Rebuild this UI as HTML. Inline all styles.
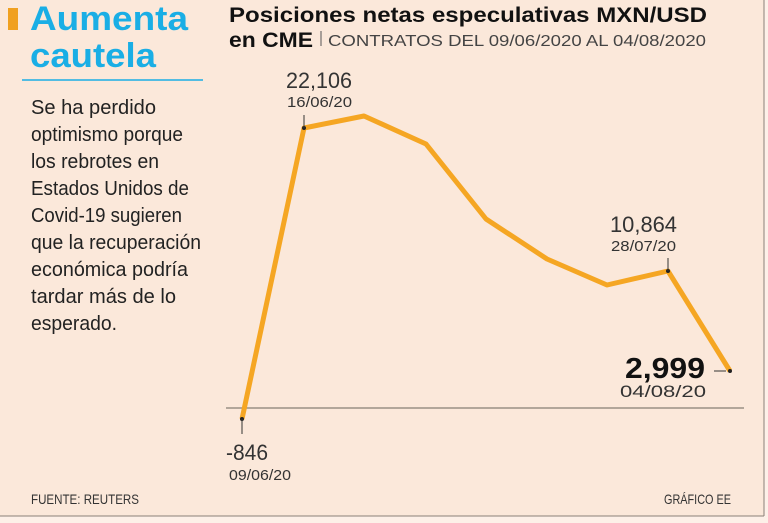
<!DOCTYPE html>
<html><head><meta charset="utf-8"><style>
body{margin:0;width:768px;height:523px;background:#fdf0e8;overflow:hidden;font-family:"Liberation Sans",sans-serif}
</style></head><body>
<svg width="768" height="523" xmlns="http://www.w3.org/2000/svg" style="position:absolute;left:0;top:0">
<rect x="0" y="0" width="764" height="516" fill="#fbe8da"/>
<line x1="764" y1="0" x2="764" y2="516" stroke="#8a8078"/>
<line x1="0" y1="516" x2="764" y2="516" stroke="#8a8078"/>
<rect x="8" y="8" width="10" height="22" fill="#f0a020"/>
<text x="30" y="30" font-size="34" font-weight="bold" fill="#1aaee5" textLength="158" lengthAdjust="spacingAndGlyphs">Aumenta</text>
<text x="30" y="67" font-size="34" font-weight="bold" fill="#1aaee5" textLength="126" lengthAdjust="spacingAndGlyphs">cautela</text>
<line x1="22" y1="80" x2="203" y2="80" stroke="#1aaee5" stroke-width="1.5"/>
<g font-size="20" fill="#222">
<text x="31" y="114" textLength="125" lengthAdjust="spacingAndGlyphs">Se ha perdido</text>
<text x="31" y="141" textLength="152" lengthAdjust="spacingAndGlyphs">optimismo porque</text>
<text x="31" y="168" textLength="128" lengthAdjust="spacingAndGlyphs">los rebrotes en</text>
<text x="31" y="195" textLength="158" lengthAdjust="spacingAndGlyphs">Estados Unidos de</text>
<text x="31" y="222" textLength="151" lengthAdjust="spacingAndGlyphs">Covid-19 sugieren</text>
<text x="31" y="249" textLength="170" lengthAdjust="spacingAndGlyphs">que la recuperación</text>
<text x="31" y="276" textLength="157" lengthAdjust="spacingAndGlyphs">económica podría</text>
<text x="31" y="303" textLength="145" lengthAdjust="spacingAndGlyphs">tardar más de lo</text>
<text x="31" y="330" textLength="86" lengthAdjust="spacingAndGlyphs">esperado.</text>
</g>
<text x="229" y="22" font-size="21" font-weight="bold" fill="#111" textLength="478" lengthAdjust="spacingAndGlyphs">Posiciones netas especulativas MXN/USD</text>
<text x="229" y="47" font-size="21" font-weight="bold" fill="#111" textLength="84" lengthAdjust="spacingAndGlyphs">en CME</text>
<line x1="321" y1="31" x2="321" y2="46" stroke="#555" stroke-width="1"/>
<text x="328" y="46" font-size="16" fill="#444" textLength="378" lengthAdjust="spacingAndGlyphs">CONTRATOS DEL 09/06/2020 AL 04/08/2020</text>
<line x1="226" y1="408" x2="744" y2="408" stroke="#9a8f84" stroke-width="1.5"/>
<polyline points="242,419 304,128 364,116 426,144 486,219 547,259 607,285 668,271 730,371" fill="none" stroke="#f5a623" stroke-width="5" stroke-linejoin="round"/>
<g fill="#222"><circle cx="242" cy="419" r="2"/><circle cx="304" cy="128" r="2"/><circle cx="668" cy="271" r="2"/><circle cx="730" cy="371" r="2"/></g>
<g stroke="#333" stroke-width="1">
<line x1="242" y1="419" x2="242" y2="434"/><line x1="304" y1="128" x2="304" y2="115"/>
<line x1="668" y1="271" x2="668" y2="258"/><line x1="714" y1="371" x2="726" y2="371"/></g>
<g fill="#333">
<text x="286" y="88" font-size="22" textLength="66" lengthAdjust="spacingAndGlyphs">22,106</text>
<text x="287" y="107" font-size="15" textLength="65" lengthAdjust="spacingAndGlyphs">16/06/20</text>
<text x="610" y="232" font-size="22" textLength="67" lengthAdjust="spacingAndGlyphs">10,864</text>
<text x="611" y="251" font-size="15" textLength="65" lengthAdjust="spacingAndGlyphs">28/07/20</text>
<text x="226" y="460" font-size="22" textLength="42" lengthAdjust="spacingAndGlyphs">-846</text>
<text x="229" y="480" font-size="15" textLength="62" lengthAdjust="spacingAndGlyphs">09/06/20</text>
<text x="620" y="397" font-size="17" textLength="86" lengthAdjust="spacingAndGlyphs">04/08/20</text>
<text x="664" y="504" font-size="14" textLength="67" lengthAdjust="spacingAndGlyphs">GRÁFICO EE</text>
<text x="31" y="504" font-size="14" textLength="108" lengthAdjust="spacingAndGlyphs">FUENTE: REUTERS</text>
</g>
<text x="625" y="378" font-size="29" font-weight="bold" fill="#111" textLength="80" lengthAdjust="spacingAndGlyphs">2,999</text>
</svg>
</body></html>
